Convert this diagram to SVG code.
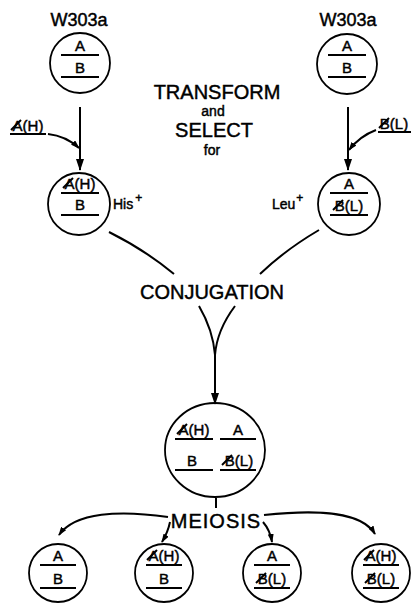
<svg xmlns="http://www.w3.org/2000/svg" width="417" height="606" viewBox="0 0 417 606">
<style>
text{font-family:"Liberation Sans",Arial,sans-serif;fill:#000;stroke:#000;stroke-width:0.45;text-anchor:middle}
.big{font-size:20px}
.mid{font-size:18px}
.sm{font-size:14px}
.g{font-size:15px}
.c{fill:none;stroke:#000;stroke-width:1.8}
.l{stroke:#000;stroke-width:1.8;fill:none}
.s{stroke:#000;stroke-width:2;fill:none}
</style>
<defs>
<marker id="ah" markerUnits="userSpaceOnUse" markerWidth="12" markerHeight="8" refX="11" refY="4" orient="auto"><path d="M0,0 L12,4 L0,8 z" fill="#000"/></marker>
<marker id="as" markerUnits="userSpaceOnUse" markerWidth="9" markerHeight="6" refX="8" refY="3" orient="auto"><path d="M0,0 L9,3 L0,6 z" fill="#000"/></marker>
</defs>
<rect width="417" height="606" fill="#fff"/>

<g id="labels">
<text class="mid" x="79" y="26">W303a</text>
<text class="mid" x="348" y="26">W303a</text>
<text class="big" x="217" y="99">TRANSFORM</text>
<text class="sm" x="213" y="116">and</text>
<text class="big" x="214" y="137">SELECT</text>
<text class="sm" x="212" y="155">for</text>
<text class="sm" x="113" y="209" style="text-anchor:start">His<tspan font-size="12" dx="2" dy="-7">+</tspan></text>
<text class="sm" x="272" y="209" style="text-anchor:start">Leu<tspan font-size="12" dx="1" dy="-7">+</tspan></text>
<text class="big" x="212" y="299">CONJUGATION</text>
<text class="big" x="216" y="528" letter-spacing="1">MEIOSIS</text>
</g>

<g id="donorA">
<text class="g" x="28" y="131">A(H)</text>
<line class="l" x1="10" y1="134" x2="46" y2="134"/>
<line class="s" x1="11" y1="130" x2="21" y2="120"/>
</g>
<g id="donorB">
<text class="g" x="394" y="129">B(L)</text>
<line class="l" x1="378" y1="132" x2="411" y2="132"/>
<line class="s" x1="379" y1="128" x2="389" y2="118"/>
</g>

<g id="p1">
<circle class="c" cx="80" cy="63" r="30"/>
<text class="g" x="80" y="51">A</text>
<line class="l" x1="61" y1="55" x2="99" y2="55"/>
<text class="g" x="80" y="73">B</text>
<line class="l" x1="61" y1="77" x2="99" y2="77"/>
</g>
<g id="p2">
<circle class="c" cx="347" cy="64" r="30"/>
<text class="g" x="347" y="51">A</text>
<line class="l" x1="328" y1="55" x2="366" y2="55"/>
<text class="g" x="347" y="73">B</text>
<line class="l" x1="328" y1="77" x2="366" y2="77"/>
</g>
<g id="t1">
<circle class="c" cx="79" cy="204" r="31"/>
<text class="g" x="80" y="189">A(H)</text>
<line class="s" x1="63" y1="188" x2="73" y2="178"/>
<line class="l" x1="61" y1="193" x2="99" y2="193"/>
<text class="g" x="80" y="210">B</text>
<line class="l" x1="61" y1="215" x2="99" y2="215"/>
</g>
<g id="t2">
<circle class="c" cx="349" cy="204" r="31"/>
<text class="g" x="349" y="189">A</text>
<line class="l" x1="330" y1="193" x2="368" y2="193"/>
<text class="g" x="349" y="211">B(L)</text>
<line class="s" x1="333" y1="210" x2="343" y2="200"/>
<line class="l" x1="330" y1="215" x2="368" y2="215"/>
</g>
<g id="dip">
<ellipse class="c" cx="215" cy="450" rx="50" ry="47"/>
<text class="g" x="194" y="435">A(H)</text>
<line class="s" x1="177" y1="434" x2="187" y2="424"/>
<line class="l" x1="175" y1="439" x2="213" y2="439"/>
<text class="g" x="238" y="435">A</text>
<line class="l" x1="220" y1="439" x2="256" y2="439"/>
<text class="g" x="192" y="466">B</text>
<line class="l" x1="175" y1="470" x2="213" y2="470"/>
<text class="g" x="239" y="466">B(L)</text>
<line class="s" x1="222" y1="465" x2="232" y2="455"/>
<line class="l" x1="220" y1="470" x2="256" y2="470"/>
</g>
<g id="s1">
<circle class="c" cx="58" cy="573" r="29"/>
<text class="g" x="58" y="561">A</text>
<line class="l" x1="40" y1="565" x2="76" y2="565"/>
<text class="g" x="58" y="584">B</text>
<line class="l" x1="40" y1="588" x2="76" y2="588"/>
</g>
<g id="s2">
<circle class="c" cx="164" cy="573" r="29"/>
<text class="g" x="164" y="561">A(H)</text>
<line class="s" x1="147" y1="560" x2="157" y2="550"/>
<line class="l" x1="146" y1="565" x2="182" y2="565"/>
<text class="g" x="164" y="584">B</text>
<line class="l" x1="146" y1="588" x2="182" y2="588"/>
</g>
<g id="s3">
<circle class="c" cx="272" cy="573" r="29"/>
<text class="g" x="272" y="561">A</text>
<line class="l" x1="254" y1="565" x2="290" y2="565"/>
<text class="g" x="272" y="584">B(L)</text>
<line class="s" x1="256" y1="583" x2="266" y2="573"/>
<line class="l" x1="254" y1="588" x2="290" y2="588"/>
</g>
<g id="s4">
<circle class="c" cx="381" cy="573" r="29"/>
<text class="g" x="381" y="561">A(H)</text>
<line class="s" x1="364" y1="560" x2="374" y2="550"/>
<line class="l" x1="363" y1="565" x2="399" y2="565"/>
<text class="g" x="381" y="584">B(L)</text>
<line class="s" x1="365" y1="583" x2="375" y2="573"/>
<line class="l" x1="363" y1="588" x2="399" y2="588"/>
</g>

<g id="connectors">
<line class="s" x1="80" y1="107" x2="80" y2="170" marker-end="url(#ah)"/>
<line class="s" x1="348" y1="107" x2="348" y2="170" marker-end="url(#ah)"/>
<path class="s" d="M48,134 Q66,136 79,148" marker-end="url(#as)"/>
<path class="s" d="M376,130 Q360,136 349,150" marker-end="url(#as)"/>
<path class="s" d="M109,232 Q145,250 174,274"/>
<path class="s" d="M319,230 Q285,250 260,274"/>
<path class="s" d="M199,306 Q213,330 215,355"/>
<path class="s" d="M235,306 Q217,330 215,355"/>
<line class="s" x1="215" y1="355" x2="215" y2="404" marker-end="url(#ah)"/>
<line class="s" x1="216" y1="498" x2="216" y2="508"/>
<path class="s" d="M168,517 C120,510 75,512 59,535" marker-end="url(#as)"/>
<path class="s" d="M170,522 Q168,532 162,542" marker-end="url(#as)"/>
<path class="s" d="M263,522 Q270,530 272,542" marker-end="url(#as)"/>
<path class="s" d="M264,515 C320,509 362,512 375,534" marker-end="url(#as)"/>
</g>
</svg>
